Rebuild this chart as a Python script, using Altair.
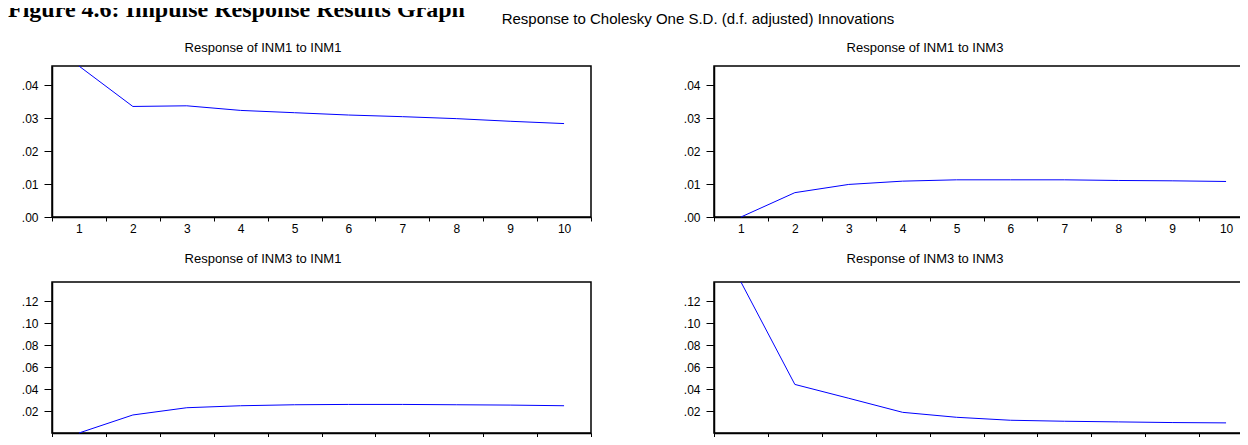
import altair as alt
import pandas as pd

# ---------------- data ----------------
steps = [1, 2, 3, 4, 5, 6, 7, 8, 9, 10]
resp_inm1_inm1 = [0.0459, 0.0336, 0.0338, 0.0324, 0.0317, 0.0310, 0.0305, 0.0299, 0.0291, 0.0284]
resp_inm1_inm3 = [0.0000, 0.0074, 0.0099, 0.0109, 0.0113, 0.0113, 0.0113, 0.0111, 0.0110, 0.0108]
resp_inm3_inm1 = [0.0000, 0.0164, 0.0230, 0.0248, 0.0257, 0.0260, 0.0260, 0.0257, 0.0254, 0.0248]
resp_inm3_inm3 = [0.1374, 0.0442, 0.0316, 0.0188, 0.0143, 0.0116, 0.0107, 0.0101, 0.0095, 0.0092]

panel_titles = [
    "Response of INM1 to INM1",
    "Response of INM1 to INM3",
    "Response of INM3 to INM1",
    "Response of INM3 to INM3",
]
figure_title = "Figure 4.6: Impulse Response Results Graph"
main_title = "Response to Cholesky One S.D. (d.f. adjusted) Innovations"

x_boundaries = [0.5, 1.5, 2.5, 3.5, 4.5, 5.5, 6.5, 7.5, 8.5, 9.5, 10.5]
top_y_ticks = [0.00, 0.01, 0.02, 0.03, 0.04]
bottom_y_ticks = [0.02, 0.04, 0.06, 0.08, 0.10, 0.12]
top_y_domain = [0.0, 0.0459]
bottom_y_domain = [0.0, 0.1374]

PW = 539   # plot width
PH = 151   # plot height
FONT = "Liberation Sans"


def panel(values, title, yticks, ydomain, title_y, extra_layers=()):
    df = pd.DataFrame({"step": steps, "value": values})
    line = alt.Chart(df).mark_line(color="#0000FF", strokeWidth=1).encode(
        x=alt.X(
            "step:Q",
            title=None,
            scale=alt.Scale(domain=[0.5, 10.5], nice=False, zero=False),
            axis=alt.Axis(
                values=x_boundaries,
                labelExpr="datum.value < 10 ? format(datum.value + 0.5, 'd') : ''",
                labelOffset=PW / 20,
                labelOverlap=False,
                labelFlush=False,
                labelBound=False,
                tickSize=4,
                labelPadding=2,
                grid=False,
            ),
        ),
        y=alt.Y(
            "value:Q",
            title=None,
            scale=alt.Scale(domain=ydomain, nice=False, zero=False),
            axis=alt.Axis(
                values=yticks,
                labelExpr="replace(format(datum.value, '.2f'), '0.', '.')",
                labelOverlap=False,
                labelFlush=False,
                labelBound=False,
                tickSize=8,
                labelPadding=6,
                grid=False,
            ),
        ),
    )
    ttl = alt.Chart(pd.DataFrame({"t": [title]})).mark_text(
        font=FONT, fontSize=13, color="black", align="center", baseline="middle"
    ).encode(x=alt.value(211), y=alt.value(title_y), text="t:N")
    return alt.layer(line, ttl, *extra_layers).properties(width=PW, height=PH)


fig_title_layer = alt.Chart(pd.DataFrame({"t": [figure_title]})).mark_text(
    font="Liberation Serif", fontSize=24, fontWeight="bold", color="black",
    align="left", baseline="alphabetic"
).encode(x=alt.value(-44), y=alt.value(-49), text="t:N")

main_title_layer = alt.Chart(pd.DataFrame({"t": [main_title]})).mark_text(
    font=FONT, fontSize=15, color="black", align="center", baseline="middle"
).encode(x=alt.value(646), y=alt.value(-47), text="t:N")

tl = panel(resp_inm1_inm1, panel_titles[0], top_y_ticks, top_y_domain, -18,
           extra_layers=(fig_title_layer, main_title_layer))
tr = panel(resp_inm1_inm3, panel_titles[1], top_y_ticks, top_y_domain, -18)
bl = panel(resp_inm3_inm1, panel_titles[2], bottom_y_ticks, bottom_y_domain, -23)
br = panel(resp_inm3_inm3, panel_titles[3], bottom_y_ticks, bottom_y_domain, -23)

chart = alt.concat(
    tl, tr, bl, br,
    columns=2,
    spacing={"row": 65, "column": 123},
    bounds="flush",
).properties(
    autosize=alt.AutoSizeParams(type="none"),
    padding={"left": 44, "top": 58, "right": 1188, "bottom": 371},
).configure_view(
    stroke="black", strokeWidth=1.5
).configure_axis(
    domainColor="black", domainWidth=1.5,
    tickColor="black", tickWidth=1,
    labelFont=FONT, labelFontSize=12, labelColor="black",
)

chart.save("out.html", embed_options={"renderer": "svg", "actions": False})
